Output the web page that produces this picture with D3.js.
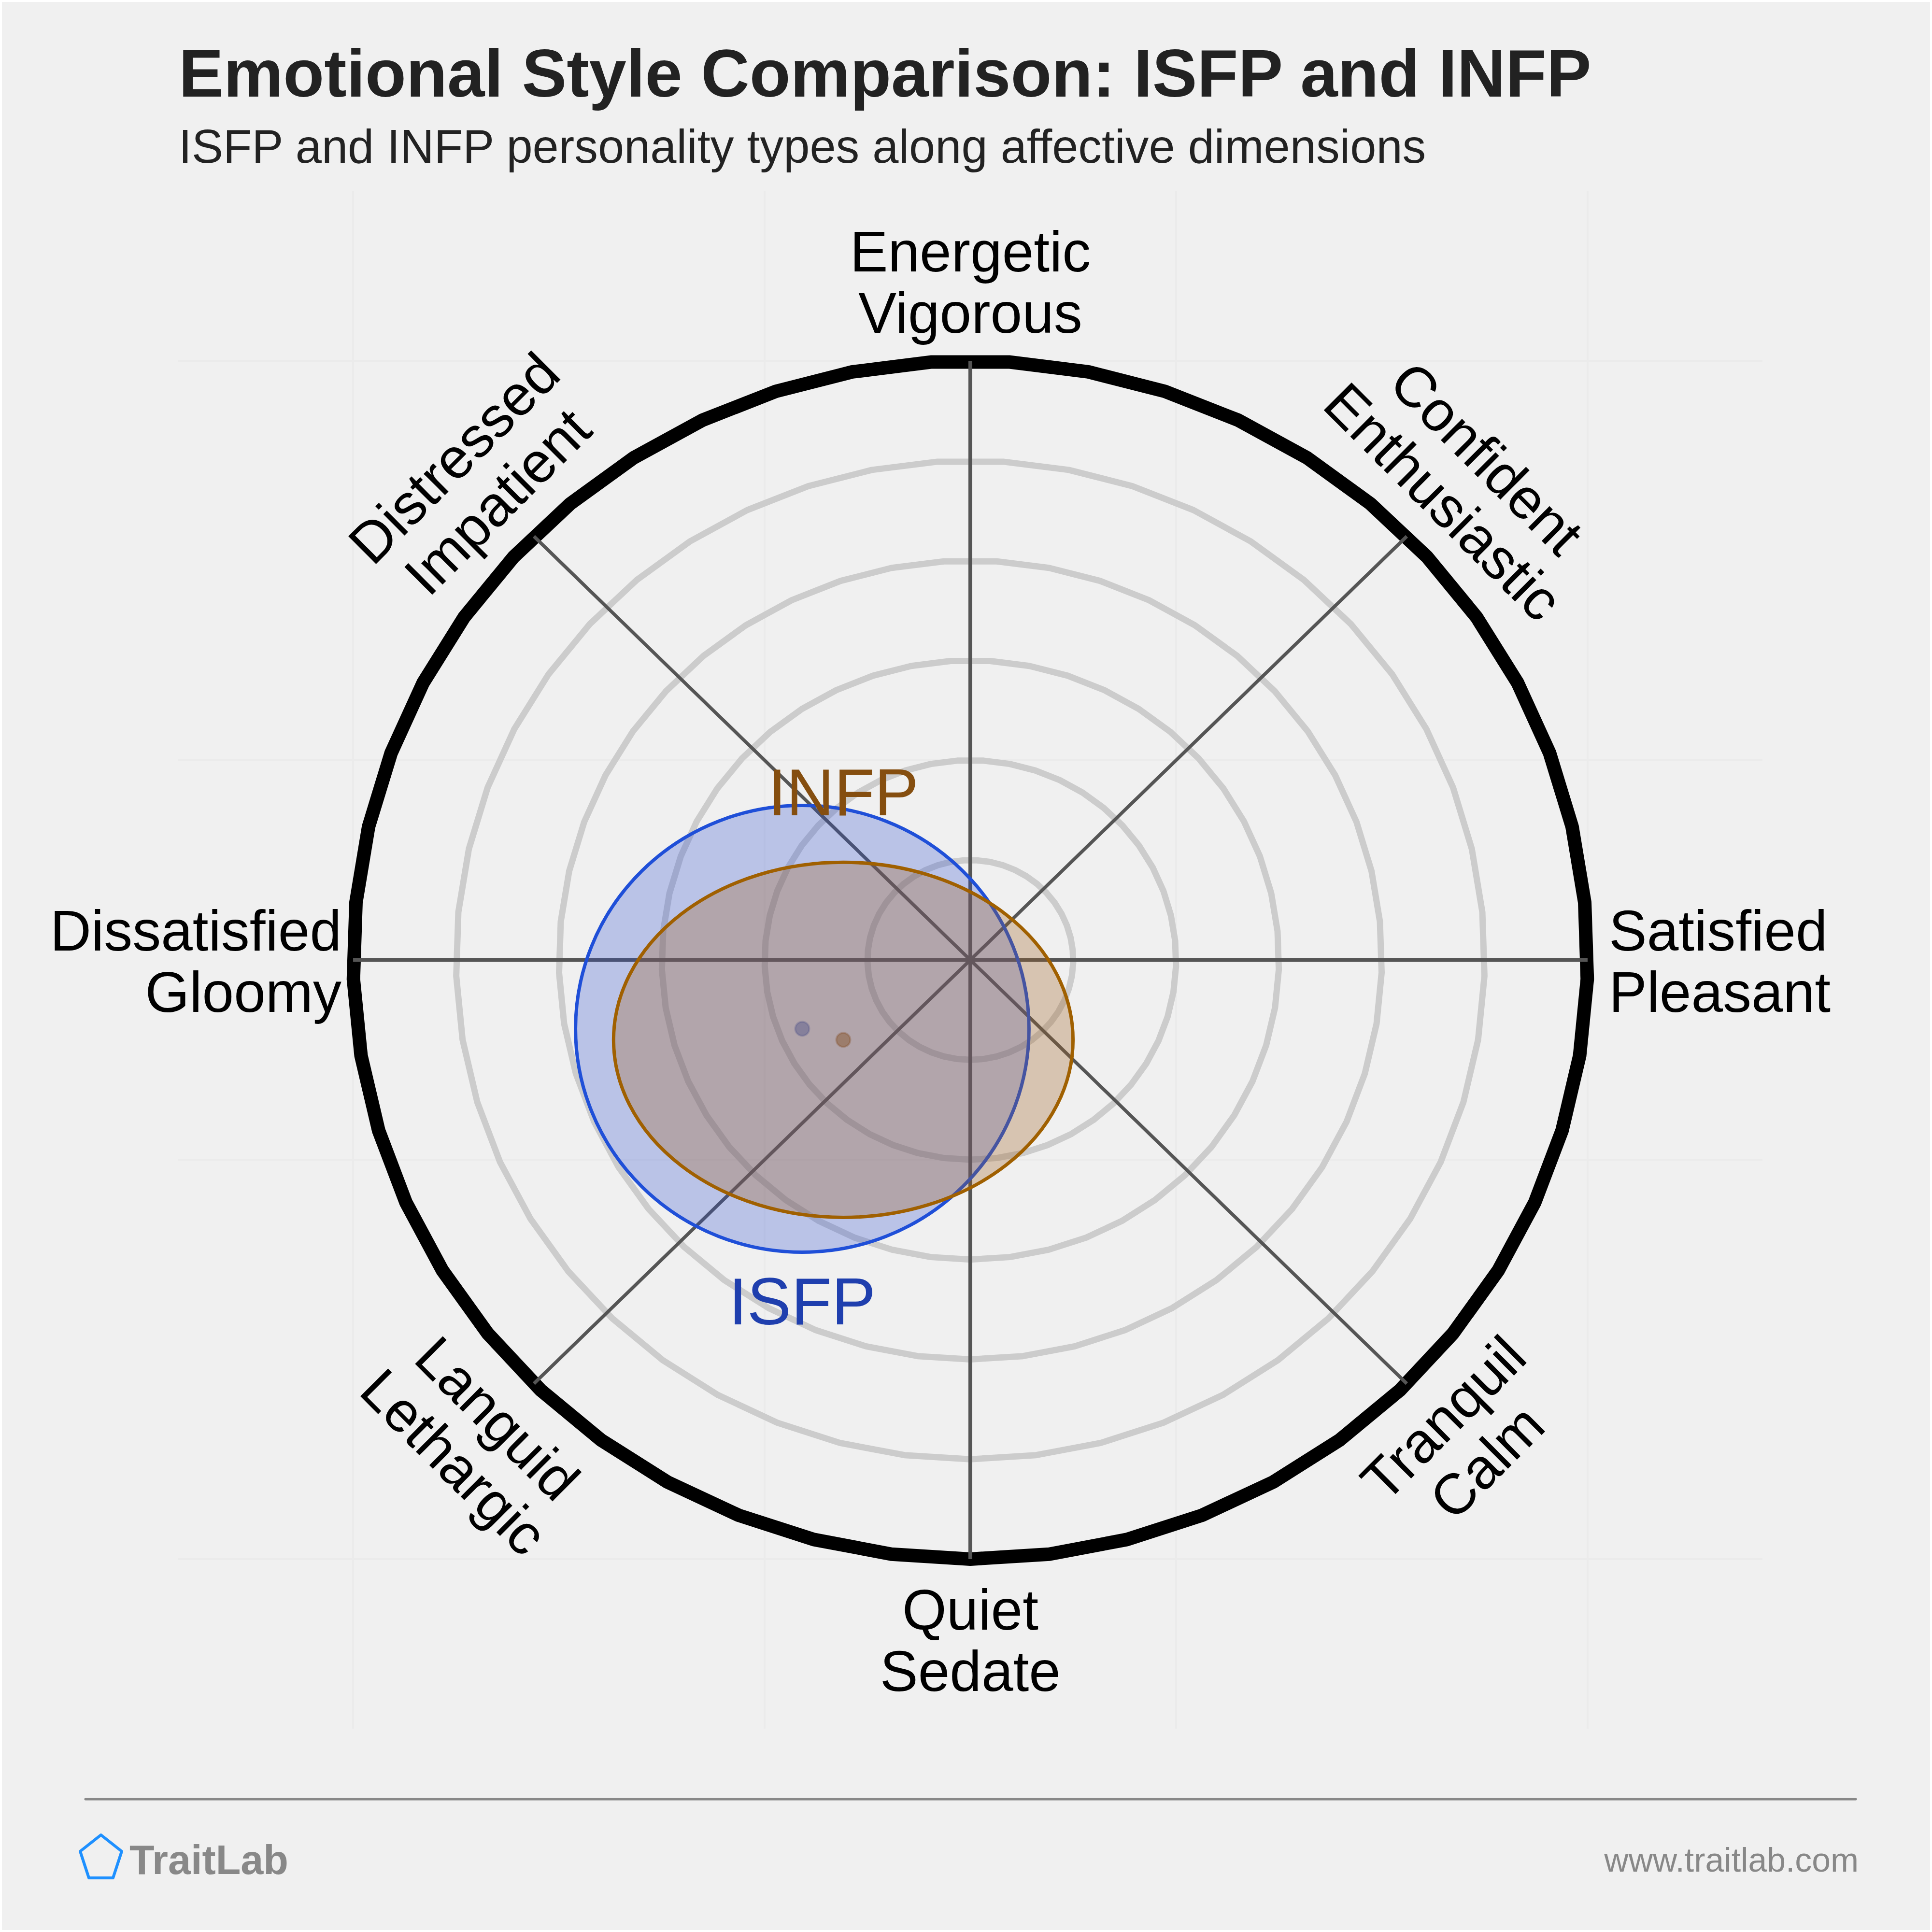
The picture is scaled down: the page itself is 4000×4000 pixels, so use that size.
<!DOCTYPE html>
<html><head><meta charset="utf-8">
<script src="https://cdn.jsdelivr.net/npm/d3@7"></script>
<style>html,body{margin:0;padding:0;background:#fff}svg{display:block}text{font-family:"Liberation Sans",Arial,sans-serif}</style>
</head><body><svg id="c" width="4000" height="4000"></svg>
<script>
const titleText = "Emotional Style Comparison: ISFP and INFP";
const subtitleText = "ISFP and INFP personality types along affective dimensions";
const gridTicks = [-6,-2,2,6];
const ringLevels = [1,2,3,4,5,6];
const axisAngles = [0,45,90,135];
const labelNames = [
 {a:0, lines:["Satisfied","Pleasant"]},
 {a:45, lines:["Confident","Enthusiastic"]},
 {a:90, lines:["Energetic","Vigorous"]},
 {a:135, lines:["Distressed","Impatient"]},
 {a:180, lines:["Dissatisfied","Gloomy"]},
 {a:225, lines:["Languid","Lethargic"]},
 {a:270, lines:["Quiet","Sedate"]},
 {a:315, lines:["Tranquil","Calm"]}
];
const typeNames = ["ISFP","INFP"];
const typeX = [-1.634,-1.235];
const typeY = [-0.689,-0.80];
const typeRx = [2.204,2.233];
const typeRy = [2.237,1.778];
const typeColors = ["#1f4fd8","#a06000"];
const typeFills = ["#2a4ad0","#a06020"];
const typeDots = ["#1f3fae","#7a4010"];
const typeTextColors = ["#1f3fae","#854e0f"];
const typeLabelY = [-3.65,1.45];

const svg = d3.select("#c");
svg.append("rect").attr("x",4).attr("y",4).attr("width",3992).attr("height",3992).attr("fill","#f0f0f0");
const x = d3.scaleLinear().domain([-7.7,7.7]).range([369,3649]);
const y = d3.scaleLinear().domain([-7.7,7.7]).range([3579.4,395.6]);
const rad = d=>d*Math.PI/180;

svg.append("g").selectAll("line").data(gridTicks).join("line")
 .attr("x1",d=>x(d)).attr("x2",d=>x(d)).attr("y1",y(7.7)).attr("y2",y(-7.7)).attr("stroke","#ebebeb").attr("stroke-width",4);
svg.append("g").selectAll("line").data(gridTicks).join("line")
 .attr("y1",d=>y(d)).attr("y2",d=>y(d)).attr("x1",x(-7.7)).attr("x2",x(7.7)).attr("stroke","#ebebeb").attr("stroke-width",4);

const seg = d3.range(49).map(i=>270+i*360/49);
const ringPath = r => d3.line().x(a=>x(r*Math.cos(rad(a)))).y(a=>y(r*Math.sin(rad(a)))).curve(d3.curveLinearClosed)(seg);
svg.append("g").selectAll("path").data(ringLevels).join("path")
 .attr("d",ringPath).attr("fill","none")
 .attr("stroke",d=>d===6?"#000":"#cccccc").attr("stroke-width",d=>d===6?28:13).attr("stroke-linejoin","round");

const spokes = svg.append("g");
axisAngles.forEach(a=>{
 const c=Math.cos(rad(a)),s=Math.sin(rad(a));
 spokes.append("line").attr("x1",x(-6*c)).attr("y1",y(-6*s)).attr("x2",x(6*c)).attr("y2",y(6*s))
  .attr("stroke","#555").attr("stroke-width",a%90===0?8:7);
});

typeNames.forEach((n,i)=>{
 svg.append("ellipse").attr("cx",x(typeX[i])).attr("cy",y(typeY[i]))
  .attr("rx",x(typeRx[i])-x(0)).attr("ry",y(0)-y(typeRy[i]))
  .attr("fill",typeFills[i]).attr("fill-opacity",i===0?0.27:0.3)
  .attr("stroke",typeColors[i]).attr("stroke-width",7);
 svg.append("circle").attr("cx",x(typeX[i])).attr("cy",y(typeY[i])).attr("r",14.5)
  .attr("fill",typeDots[i]).attr("fill-opacity",0.4)
  .attr("stroke",typeDots[i]).attr("stroke-opacity",0.25).attr("stroke-width",4);
 svg.append("text").attr("x",x(typeX[i])).attr("y",y(typeLabelY[i])).attr("text-anchor","middle")
  .attr("font-size",137).attr("fill",typeTextColors[i]).text(n);
});

const LS=127.5, LR=6.8;
labelNames.forEach(l=>{
 const c=Math.cos(rad(l.a)),s=Math.sin(rad(l.a));
 const px=x(LR*c),py=y(LR*s);
 let anchor="middle",rot=0,tx=px;
 if(l.a===0){anchor="start";tx=x(6)+44;}
 if(l.a===180){anchor="end";tx=x(-6)-24;}
 if(l.a===45||l.a===225)rot=45;
 if(l.a===135||l.a===315)rot=-45;
 const g=svg.append("g").attr("transform",`translate(${tx},${py+(rot===0?3:0)}) rotate(${rot})`);
 l.lines.forEach((t,i)=>{
  g.append("text").attr("x",0).attr("y",(i-0.5)*LS+41).attr("text-anchor",anchor)
   .attr("font-size",118).attr("fill","#000").text(t);
 });
});

svg.append("text").attr("x",370).attr("y",200).attr("font-size",139).attr("font-weight","bold").attr("fill","#222").text(titleText);
svg.append("text").attr("x",370).attr("y",337).attr("font-size",97.4).attr("fill","#222").text(subtitleText);

svg.append("line").attr("x1",177).attr("x2",3842).attr("y1",3725).attr("y2",3725).attr("stroke","#888").attr("stroke-width",5).attr("stroke-linecap","round");
const penta=[[209,3799],[166,3833],[184,3888],[234,3888],[252,3833]];
svg.append("path").attr("d",d3.line().curve(d3.curveLinearClosed)(penta)).attr("fill","none").attr("stroke","#1e90ff").attr("stroke-width",6).attr("stroke-linejoin","round");
svg.append("text").attr("x",268).attr("y",3880).attr("font-size",84.6).attr("font-weight","bold").attr("fill","#888").text("TraitLab");
svg.append("text").attr("x",3848).attr("y",3875).attr("text-anchor","end").attr("font-size",69.7).attr("fill","#888").text("www.traitlab.com");
</script></body></html>
